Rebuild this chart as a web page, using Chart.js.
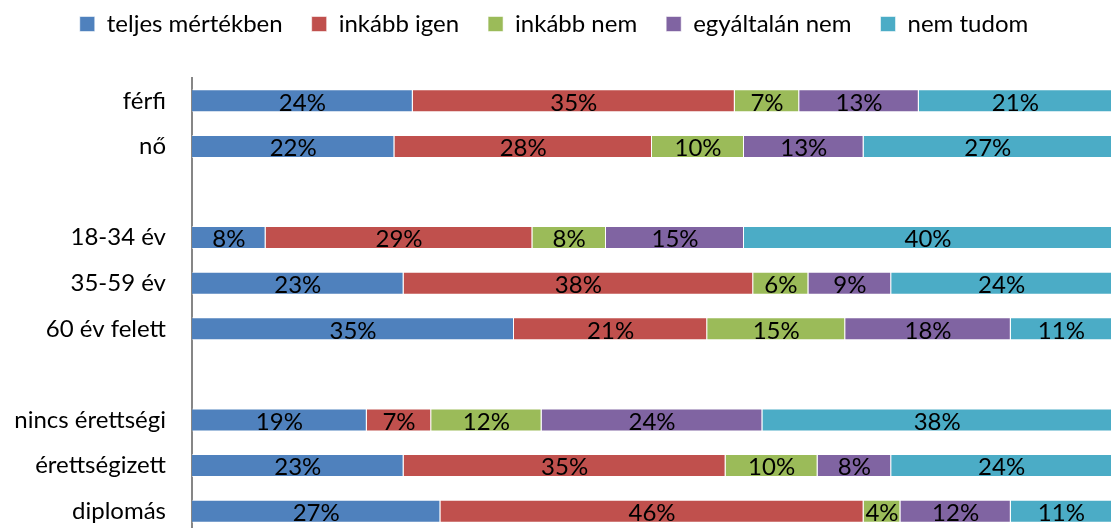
<!DOCTYPE html>
<html>
<head>
<meta charset="utf-8">
<script src="https://cdn.jsdelivr.net/npm/chart.js@4"></script>
<style>
    html, body { margin: 0; padding: 0; background: #ffffff; overflow: hidden; }
    #chart_wrap { position: relative; width: 1112px; height: 534px; }
</style>
</head>
<body>
<div id="chart_wrap"><canvas id="answers_chart_cnv"></canvas></div>
<script>
// categories, empty strings are the gaps between groups
const categories = ["férfi", "nő", "", "18-34 év", "35-59 év", "60 év felett", "", "nincs érettségi", "érettségizett", "diplomás"];
const series_names = ["teljes mértékben", "inkább igen", "inkább nem", "egyáltalán nem", "nem tudom"];

// percent values per answer
const teljes_mertekben = [24, 22, null, 8, 23, 35, null, 19, 23, 27];
const inkabb_igen = [35, 28, null, 29, 38, 21, null, 7, 35, 46];
const inkabb_nem = [7, 10, null, 8, 6, 15, null, 12, 10, 4];
const egyaltalan_nem = [13, 13, null, 15, 9, 18, null, 24, 8, 12];
const nem_tudom = [21, 27, null, 40, 24, 11, null, 38, 24, 11];

const series_values = [teljes_mertekben, inkabb_igen, inkabb_nem, egyaltalan_nem, nem_tudom];
const series_colors = ["#4F81BD", "#C0504D", "#9BBB59", "#8064A2", "#4BACC6"];

const font_family = "Lato";

/** draws the "24%" labels in the middle of every segment */
const bar_labels_plugin = {
    id: "bar_labels",
    afterDatasetsDraw(chart) {
        const ctx = chart.ctx;
        ctx.save();
        ctx.font = "24px " + font_family;
        ctx.fillStyle = "#000000";
        ctx.textAlign = "center";
        ctx.textBaseline = "middle";
        chart.data.datasets.forEach(function (dataset, i) {
            chart.getDatasetMeta(i).data.forEach(function (bar, j) {
                const value = dataset.data[j];
                if (value === null) {
                    return;
                }
                ctx.fillText(value + "%", (bar.x + bar.base) / 2, bar.y + 2);
            });
        });
        ctx.restore();
    }
};

/** keeps the legend row near the top and leaves room under it */
const legend_place_plugin = {
    id: "legend_place",
    beforeInit(chart) {
        const fit = chart.legend.fit;
        chart.legend.fit = function () {
            fit.call(this);
            this.height = 78;
        };
    },
    afterLayout(chart) {
        chart.legend.top = -17;
        chart.legend.left = -4;
    }
};

const answers_chart = new Chart(document.getElementById("answers_chart_cnv").getContext("2d"), {
    "type": "bar",
    "data": {
        "labels": categories,
        "datasets": series_names.map(function (name, i) {
            return {
                "label": name,
                "data": series_values[i],
                "backgroundColor": series_colors[i],
                "borderColor": "rgba(255, 255, 255, 0.55)",
                "borderWidth": 1,
                "categoryPercentage": 1.0,
                "barPercentage": 0.505
            };
        })
    },
    "options": {
        "indexAxis": "y",
        "responsive": true,
        "maintainAspectRatio": false,
        "animation": false,
        "layout": {"padding": 0},
        "scales": {
            "x": {"stacked": true, "display": false, "min": 0, "max": 100},
            "y": {
                "stacked": true,
                "grid": {"display": false, "drawTicks": false, "tickLength": 0},
                "border": {"display": true, "color": "#868686", "width": 2},
                "ticks": {
                    "color": "#000000",
                    "font": {"family": font_family, "size": 24},
                    "padding": 26,
                    "autoSkip": false
                },
                afterFit(scale) {
                    scale.width = 192;
                    scale.paddingTop = 0;
                    scale.paddingBottom = 0;
                }
            }
        },
        "plugins": {
            "legend": {
                "display": true,
                "position": "top",
                "labels": {
                    "color": "#000000",
                    "font": {"family": font_family, "size": 24},
                    "boxWidth": 15,
                    "boxHeight": 15,
                    "padding": 29
                }
            },
            "tooltip": {"enabled": false}
        }
    },
    "plugins": [bar_labels_plugin, legend_place_plugin]
});
</script>
</body>
</html>
